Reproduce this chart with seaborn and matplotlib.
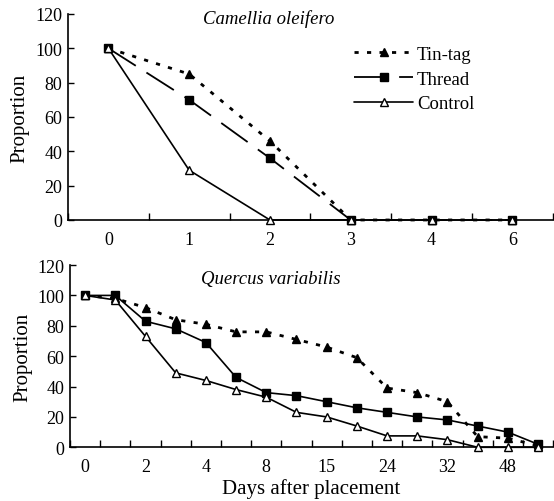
import numpy as np
import pandas as pd
import matplotlib
matplotlib.use("Agg")
import matplotlib.pyplot as plt
import seaborn as sns

# top panel: Camellia oleifero
top_days = ["0", "1", "2", "3", "4", "6"]
top_tintag = [100, 85, 46, 0, 0, 0]
top_thread = [100, 70, 36, 0, 0, 0]
top_control = [100, 29, 0, 0, 0, 0]

# bottom panel: Quercus variabilis (16 sampling points, every 2nd labelled)
bot_tick_labels = ["0", "2", "4", "8", "15", "24", "32", "48"]
bot_tintag = [100, 98, 92, 84, 81, 76, 76, 71, 66, 59, 39, 36, 30, 7, 6, 1]
bot_thread = [100, 100, 83, 78, 69, 46, 36, 34, 30, 26, 23, 20, 18, 14, 10, 2]
bot_control = [100, 97, 73, 49, 44, 38, 33, 23, 20, 14, 7.5, 7.5, 5, 0, 0, 0]

sns.set_style("ticks")
plt.rcParams["font.family"] = ["Liberation Serif", "DejaVu Serif"]
plt.rcParams["text.color"] = "black"
plt.rcParams["axes.labelcolor"] = "black"
plt.rcParams["xtick.color"] = "black"
plt.rcParams["ytick.color"] = "black"

fig = plt.figure(figsize=(5.54, 5.02), dpi=100)
ax1 = fig.add_axes([0.1227, 0.5598, 0.875, 0.4104])
ax2 = fig.add_axes([0.1264, 0.107, 0.872, 0.363])

styles = {
    "Tin-tag": dict(linestyle=(0, (1.5, 3)), linewidth=2.0, marker="^",
                    markerfacecolor="black", markeredgecolor="black"),
    "Thread": dict(linestyle=(0, (18, 7)), linewidth=1.3, marker="s",
                   markerfacecolor="black", markeredgecolor="black"),
    "Control": dict(linestyle="-", linewidth=1.2, marker="^",
                    markerfacecolor="white", markeredgecolor="black"),
}


def draw_panel(ax, values, line_styles):
    n = len(values["Tin-tag"])
    x = np.arange(n)
    for name in ["Tin-tag", "Thread", "Control"]:
        kw = dict(styles[name])
        kw.update(line_styles.get(name, {}))
        sns.lineplot(x=x, y=values[name], ax=ax, color="black", errorbar=None,
                     markersize=6, markeredgewidth=1.0, label=name, legend=False,
                     clip_on=False, zorder=3, **kw)
    ax.set_xlim(-0.5, n - 0.5)
    ax.set_ylim(0, 120)
    ax.set_yticks(range(0, 121, 20))
    ax.set_xticks(np.arange(-0.5, n, 1.0), minor=True)
    ax.tick_params(axis="x", which="major", length=0, pad=8, labelsize=13)
    ax.tick_params(axis="x", which="minor", direction="in", length=5, width=1)
    ax.tick_params(axis="y", direction="in", length=4, width=1, pad=4, labelsize=13)
    for s in ["top", "right"]:
        ax.spines[s].set_visible(False)
    for s in ["left", "bottom"]:
        ax.spines[s].set_linewidth(1.2)
        ax.spines[s].set_color("black")
    ax.set_ylabel("Proportion", fontsize=15, labelpad=4)


top_vals = {"Tin-tag": top_tintag, "Thread": top_thread, "Control": top_control}
draw_panel(ax1, top_vals, {})
ax1.set_xticks(np.arange(len(top_days)))
ax1.set_xticklabels(top_days)
ax1.set_xlabel("")
ax1.text(0.414, 0.98, "Camellia oleifero", transform=ax1.transAxes,
         ha="center", va="center", fontsize=13.5, style="italic")

handles = ax1.get_lines()[:3]
ax1.legend(handles=handles, labels=["Tin-tag", "Thread", "Control"],
           loc="upper left", bbox_to_anchor=(0.59, 0.845), frameon=False,
           fontsize=13.5, handlelength=3.15, handletextpad=0.2,
           labelspacing=0.4, borderpad=0, borderaxespad=0, numpoints=1)

bot_vals = {"Tin-tag": bot_tintag, "Thread": bot_thread, "Control": bot_control}
draw_panel(ax2, bot_vals, {"Thread": dict(linestyle="-", linewidth=1.2)})
ax2.set_xticks(np.arange(0, len(bot_tintag), 2))
ax2.set_xticklabels(bot_tick_labels)
ax2.set_xlabel("Days after placement", fontsize=15, labelpad=2)
ax2.text(0.416, 0.927, "Quercus variabilis", transform=ax2.transAxes,
         ha="center", va="center", fontsize=13.5, style="italic")

fig.savefig("out.png", dpi=100)
